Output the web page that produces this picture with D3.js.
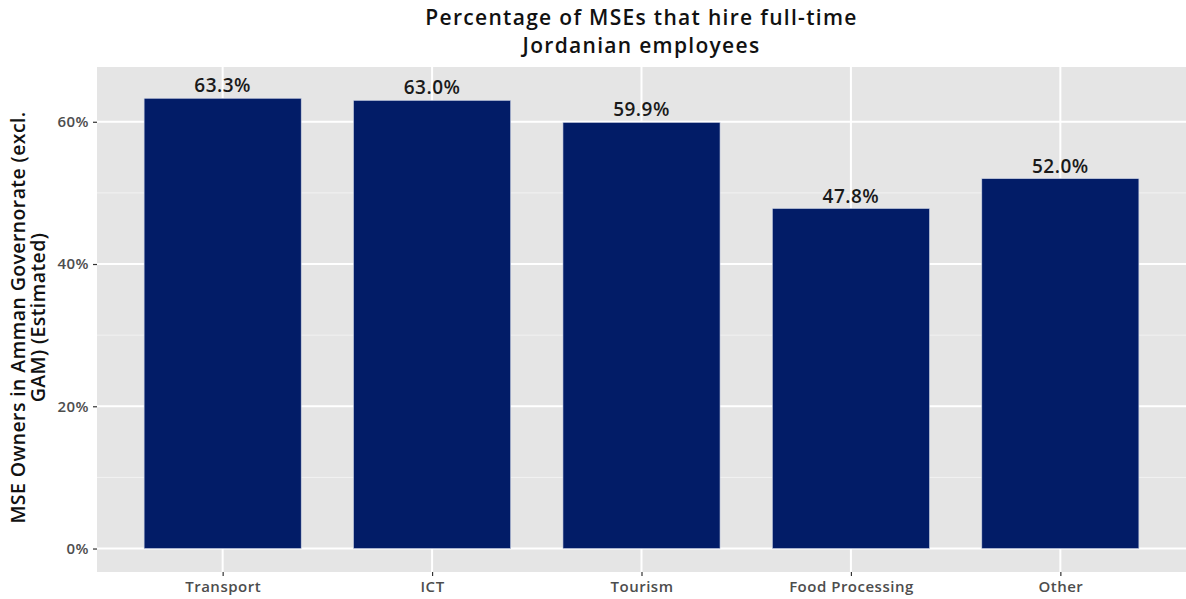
<!DOCTYPE html>
<html>
<head>
<meta charset="utf-8">
<script src="https://cdn.jsdelivr.net/npm/d3@7"></script>
<style>
  body { margin: 0; background: #fff; }
  svg { display: block; font-family: "Open Sans", sans-serif; }
</style>
</head>
<body>
<div id="chart"></div>
<script>
// data
const sectors = ["Transport", "ICT", "Tourism", "Food Processing", "Other"];
const shares = [63.3, 63.0, 59.9, 47.8, 52.0];
const yTicks = [0, 20, 40, 60];
const yMinor = [10, 30, 50];

const width = 1186;
const height = 599;
const margin = { top: 67, right: 0, bottom: 27, left: 97 };
const innerW = width - margin.left - margin.right;
const innerH = height - margin.top - margin.bottom;

const svg = d3.select("#chart")
  .append("svg")
  .attr("width", width)
  .attr("height", height);

const g = svg.append("g")
  .attr("transform", `translate(${margin.left},${margin.top})`);

// discrete scale with ggplot-like 0.6 expansion each side
const x = d3.scalePoint()
  .domain(sectors)
  .range([0, innerW])
  .padding(0.6);
const step = x.step();
const barW = step * 0.75;

const y = d3.scaleLinear()
  .domain([-3.3, 67.7])
  .range([innerH, 0]);

// panel background
g.append("rect")
  .attr("width", innerW)
  .attr("height", innerH)
  .attr("fill", "#e5e5e5");

// minor grid
g.selectAll(".minor")
  .data(yMinor)
  .enter()
  .append("line")
  .attr("x1", 0).attr("x2", innerW)
  .attr("y1", d => y(d)).attr("y2", d => y(d))
  .attr("stroke", "#f2f2f2")
  .attr("stroke-width", 1);

// major grid
g.selectAll(".major")
  .data(yTicks)
  .enter()
  .append("line")
  .attr("x1", 0).attr("x2", innerW)
  .attr("y1", d => y(d)).attr("y2", d => y(d))
  .attr("stroke", "#fff")
  .attr("stroke-width", 2);

g.selectAll(".vgrid")
  .data(sectors)
  .enter()
  .append("line")
  .attr("x1", d => x(d)).attr("x2", d => x(d))
  .attr("y1", 0).attr("y2", innerH)
  .attr("stroke", "#fff")
  .attr("stroke-width", 2);

// bars
g.selectAll(".bar")
  .data(sectors)
  .enter()
  .append("rect")
  .attr("x", d => x(d) - barW / 2)
  .attr("y", (d, i) => y(shares[i]))
  .attr("width", barW)
  .attr("height", (d, i) => y(0) - y(shares[i]))
  .attr("fill", "#021c67")
  .attr("stroke", "#c9d0e3")
  .attr("stroke-width", 0.6);

// value labels
g.selectAll(".lbl")
  .data(sectors)
  .enter()
  .append("text")
  .attr("x", d => x(d))
  .attr("y", (d, i) => y(shares[i]) - 6)
  .attr("text-anchor", "middle")
  .attr("font-size", 19)
  .attr("font-weight", 600)
  .attr("letter-spacing", 0.5)
  .attr("fill", "#1a1a1a")
  .text((d, i) => shares[i].toFixed(1) + "%");

// axes
const yAxis = g.append("g")
  .call(d3.axisLeft(y).tickValues(yTicks).tickFormat(d => d + "%").tickSize(4).tickPadding(4));
const xAxis = g.append("g")
  .attr("transform", `translate(0,${innerH})`)
  .call(d3.axisBottom(x).tickSize(4).tickPadding(5));

[yAxis, xAxis].forEach(a => {
  a.select(".domain").remove();
  a.selectAll(".tick line").attr("stroke", "#333").attr("stroke-width", 1.2);
  a.selectAll(".tick text")
    .attr("fill", "#4d4d4d")
    .attr("font-size", 15)
    .attr("font-weight", 600)
    .attr("letter-spacing", 0.5)
    .style("font-family", "'Open Sans', sans-serif");
});

// title
const title = svg.append("text")
  .attr("text-anchor", "middle")
  .attr("font-size", 21)
  .attr("font-weight", 600)
  .attr("letter-spacing", 1.3)
  .attr("fill", "#111");
title.append("tspan").attr("x", margin.left + innerW / 2).attr("y", 25)
  .text("Percentage of MSEs that hire full-time");
title.append("tspan").attr("x", margin.left + innerW / 2).attr("y", 53)
  .text("Jordanian employees");

// y axis title
const yTitle = svg.append("text")
  .attr("transform", `translate(0,${margin.top + innerH / 2 - 2}) rotate(-90)`)
  .attr("text-anchor", "middle")
  .attr("font-size", 19.5)
  .attr("font-weight", 600)
  .attr("letter-spacing", 0.4)
  .attr("fill", "#111");
yTitle.append("tspan").attr("x", 0).attr("y", 25)
  .text("MSE Owners in Amman Governorate (excl.");
yTitle.append("tspan").attr("x", 0).attr("y", 45)
  .text("GAM) (Estimated)");
</script>
</body>
</html>
